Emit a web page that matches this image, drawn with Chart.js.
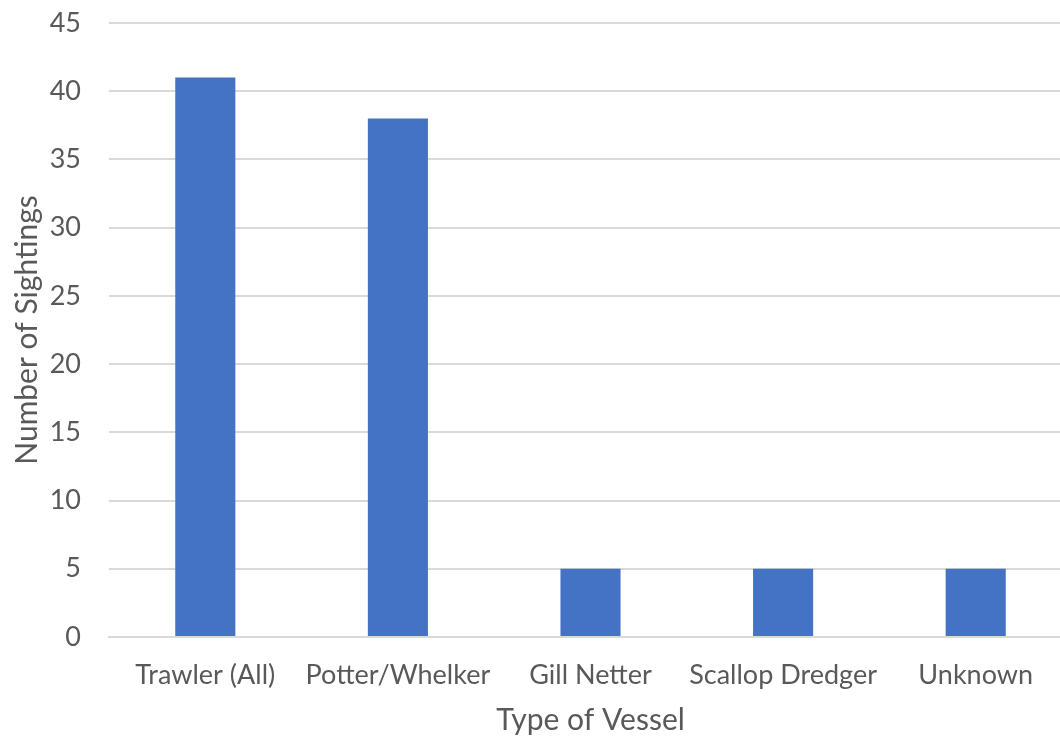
<!DOCTYPE html>
<html><head><meta charset="utf-8">
<script src="https://cdn.jsdelivr.net/npm/chart.js@4"></script>
<style>
html,body{margin:0;padding:0;overflow:hidden;background:#fff;width:1060px;height:738px;}
#wrap{position:absolute;left:0;top:0;width:1072px;height:738px;}
</style></head>
<body>
<div id="wrap"><canvas id="c" width="1072" height="738"></canvas></div>
<script>
const categories = ["Trawler (All)", "Potter/Whelker", "Gill Netter", "Scallop Dredger", "Unknown"];
const sightings = [41, 38, 5, 5, 5];
const yTicks = [0, 5, 10, 15, 20, 25, 30, 35, 40, 45];

const txt = '#595959';
const fam = 'Lato, "Open Sans", sans-serif';
new Chart(document.getElementById('c'), {
  type: 'bar',
  data: { labels: categories, datasets: [{ data: sightings, backgroundColor: '#4472C4', borderWidth: 0, barPercentage: 0.312, categoryPercentage: 1 }] },
  options: {
    responsive: false, animation: false, devicePixelRatio: 1,
    layout: { padding: { top: 23, right: 0, left: 0, bottom: 0 } },
    plugins: { legend: { display: false }, tooltip: { enabled: false } },
    scales: {
      x: {
        grid: { display: false, drawTicks: false },
        border: { display: true, color: '#D9D9D9', width: 2 },
        ticks: { color: txt, font: { family: fam, size: 27 }, padding: 22, maxRotation: 0, autoSkip: false },
        title: { display: true, text: 'Type of Vessel', color: txt, font: { family: fam, size: 30 }, padding: { top: 0, bottom: 0 } },
        afterFit: s => { s.height = 101; s.paddingLeft = 0; s.paddingRight = 0; }
      },
      y: {
        min: 0, max: 45,
        afterBuildTicks: s => { s.ticks = yTicks.map(v => ({ value: v })); },
        grid: { color: '#D9D9D9', lineWidth: 2, drawTicks: false },
        border: { display: false },
        ticks: { color: txt, font: { family: fam, size: 27 }, padding: 28 },
        title: { display: true, text: 'Number of Sightings', color: txt, font: { family: fam, size: 30 }, padding: { top: 9, bottom: 0 } },
        afterFit: s => { s.width = 109; s.paddingTop = 0; s.paddingBottom = 0; }
      }
    }
  }
});
</script>
</body></html>
